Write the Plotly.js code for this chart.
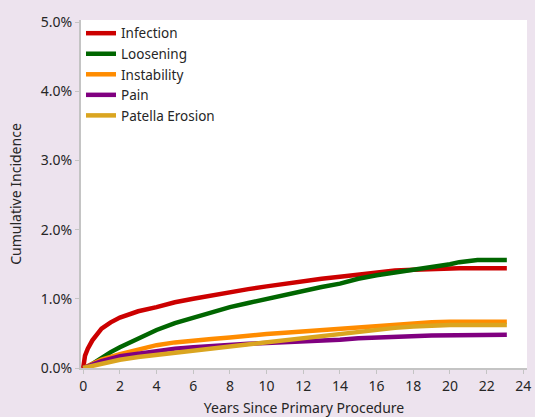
<!DOCTYPE html>
<html>
<head>
<meta charset="utf-8">
<script src="https://cdn.plot.ly/plotly-3.0.1.min.js"></script>
<style>html,body{margin:0;padding:0;background:#ede3ee;}#chart{width:535px;height:417px;}</style>
</head>
<body>
<div id="chart"></div>
<script>
// Years since primary procedure and cumulative incidence (%)
const infectionYears = [0, 0.1, 0.25, 0.5, 1, 1.5, 2, 3, 4, 5, 6, 7, 8, 9, 10, 11, 12, 13, 14, 15, 16, 17, 18, 19, 20, 20.5, 23.1];
const infection      = [0, 0.18, 0.28, 0.40, 0.57, 0.66, 0.73, 0.82, 0.88, 0.95, 1.00, 1.05, 1.09, 1.14, 1.18, 1.22, 1.26, 1.29, 1.32, 1.35, 1.38, 1.41, 1.42, 1.43, 1.43, 1.44, 1.44];

const looseningYears = [0, 0.25, 0.5, 1, 1.5, 2, 3, 4, 5, 6, 7, 8, 9, 10, 11, 12, 13, 14, 15, 16, 17, 18, 19, 20, 20.5, 21, 21.5, 23.1];
const loosening      = [0, 0.02, 0.06, 0.15, 0.23, 0.30, 0.43, 0.55, 0.65, 0.73, 0.81, 0.88, 0.94, 1.00, 1.06, 1.12, 1.17, 1.22, 1.29, 1.34, 1.38, 1.42, 1.45, 1.50, 1.53, 1.55, 1.56, 1.56];

const instabilityYears = [0, 0.5, 1, 2, 3, 4, 5, 6, 7, 8, 9, 10, 11, 12, 13, 14, 15, 16, 17, 18, 19, 20, 23.1];
const instability      = [0, 0.06, 0.12, 0.20, 0.27, 0.33, 0.37, 0.40, 0.42, 0.44, 0.47, 0.49, 0.51, 0.53, 0.55, 0.56, 0.58, 0.61, 0.63, 0.65, 0.66, 0.67, 0.67];

const painYears = [0, 0.5, 1, 2, 3, 4, 5, 6, 7, 8, 9, 10, 11, 12, 13, 14, 15, 16, 17, 18, 19, 23.1];
const pain      = [0, 0.05, 0.10, 0.17, 0.21, 0.25, 0.28, 0.30, 0.32, 0.33, 0.35, 0.36, 0.37, 0.38, 0.40, 0.41, 0.43, 0.44, 0.45, 0.46, 0.47, 0.48];

const patellaYears = [0, 0.5, 1, 2, 3, 4, 5, 6, 7, 8, 9, 10, 11, 12, 13, 14, 15, 16, 17, 18, 19, 20, 23.1];
const patella      = [0, 0.03, 0.07, 0.12, 0.16, 0.19, 0.23, 0.26, 0.28, 0.31, 0.34, 0.37, 0.40, 0.43, 0.46, 0.49, 0.52, 0.56, 0.58, 0.60, 0.61, 0.62, 0.62];

const seriesNames = ['Infection', 'Loosening', 'Instability', 'Pain', 'Patella Erosion'];
const seriesColors = ['#cc0000', '#006600', '#ff8c00', '#800080', '#daa520'];
const xs = [infectionYears, looseningYears, instabilityYears, painYears, patellaYears];
const ys = [infection, loosening, instability, pain, patella];

const yTicks = [0, 1, 2, 3, 4, 5];
const xTicks = [0, 2, 4, 6, 8, 10, 12, 14, 16, 18, 20, 22, 24];

const traces = seriesNames.map((n, i) => ({
  x: xs[i], y: ys[i], name: n, type: 'scatter', mode: 'lines',
  line: {color: seriesColors[i], width: 4.5}
}));

const font = {family: 'Noto Sans, Open Sans, sans-serif', size: 14, color: '#262626'};
const legendFont = {family: 'Noto Sans, Open Sans, sans-serif', size: 13.5, color: '#262626'};

const layout = {
  width: 535, height: 417,
  paper_bgcolor: '#ede3ee', plot_bgcolor: '#ffffff',
  margin: {l: 81, r: 8, t: 20, b: 49, pad: 0},
  font: font,
  showlegend: true,
  legend: {x: 0, y: 1.006, xanchor: 'left', yanchor: 'top', bgcolor: 'rgba(0,0,0,0)',
           font: legendFont, tracegroupgap: 0, itemwidth: 30},
  xaxis: {
    range: [-0.12, 24.2], tickvals: xTicks, ticktext: xTicks.map(String),
    showgrid: false, zeroline: false, showline: true, linecolor: '#c4c4c4', linewidth: 2,
    ticks: 'outside', ticklen: 4, tickcolor: '#c4c4c4', tickfont: font,
    title: {text: 'Years Since Primary Procedure', font: font, standoff: 19}
  },
  yaxis: {
    range: [0, 5.03], tickvals: yTicks, ticktext: yTicks.map(v => v.toFixed(1) + '%'),
    showgrid: false, zeroline: false, showline: true, linecolor: '#c4c4c4', linewidth: 2,
    ticks: 'outside', ticklen: 4, tickcolor: '#c4c4c4', tickfont: font,
    title: {text: 'Cumulative Incidence', font: font, standoff: 16}
  }
};

Plotly.newPlot('chart', traces, layout, {displayModeBar: false, staticPlot: true});
</script>
</body>
</html>
